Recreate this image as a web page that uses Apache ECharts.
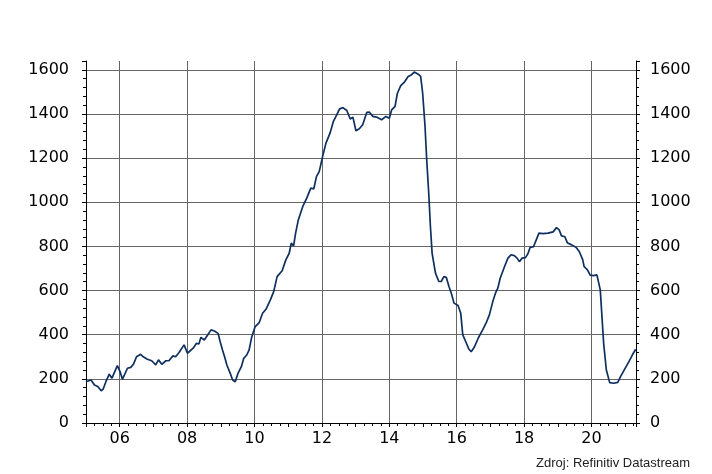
<!DOCTYPE html>
<html>
<head>
<meta charset="utf-8">
<script src="https://cdn.jsdelivr.net/npm/echarts@6/dist/echarts.min.js"></script>
<style>
html,body{margin:0;padding:0;background:#fff;}
#chart{width:712px;height:474px;}
</style>
</head>
<body>
<div id="chart"></div>
<script>
// Decimal years (x) and values (y)
const dates = [
2005.00,2005.15,2005.25,2005.35,2005.45,2005.51,2005.59,2005.69,2005.77,2005.93,
2006.01,2006.08,2006.23,2006.33,2006.41,2006.50,2006.62,2006.70,2006.82,2006.95,
2007.07,2007.15,2007.25,2007.37,2007.46,2007.58,2007.66,2007.76,2007.91,2008.01,
2008.18,2008.28,2008.35,2008.41,2008.51,2008.61,2008.71,2008.81,2008.86,2008.92,
2008.98,2009.05,2009.11,2009.18,2009.28,2009.35,2009.43,2009.51,2009.61,2009.68,
2009.77,2009.84,2009.92,2010.02,2010.14,2010.24,2010.34,2010.47,2010.57,2010.67,
2010.82,2010.93,2011.03,2011.09,2011.16,2011.22,2011.30,2011.43,2011.55,2011.67,
2011.76,2011.84,2011.92,2012.02,2012.12,2012.24,2012.34,2012.44,2012.52,2012.62,
2012.74,2012.84,2012.92,2013.01,2013.11,2013.21,2013.33,2013.41,2013.51,2013.62,
2013.77,2013.90,2014.00,2014.07,2014.17,2014.24,2014.34,2014.44,2014.56,2014.66,
2014.74,2014.86,2014.93,2014.99,2015.06,2015.11,2015.17,2015.22,2015.27,2015.37,
2015.47,2015.54,2015.62,2015.69,2015.77,2015.84,2015.92,2016.04,2016.12,2016.18,
2016.27,2016.36,2016.43,2016.52,2016.64,2016.77,2016.87,2016.97,2017.07,2017.15,
2017.22,2017.29,2017.42,2017.52,2017.61,2017.71,2017.79,2017.86,2017.94,2018.04,
2018.11,2018.18,2018.28,2018.34,2018.44,2018.56,2018.71,2018.86,2018.96,2019.04,
2019.11,2019.21,2019.28,2019.41,2019.54,2019.64,2019.74,2019.78,2019.88,2019.96,
2020.06,2020.16,2020.21,2020.26,2020.31,2020.36,2020.44,2020.54,2020.66,2020.78,
2020.86,2020.98,2021.11,2021.21,2021.31
];
const values = [
187,195,172,165,146,154,187,221,203,260,
233,198,248,252,267,300,311,300,289,282,
263,286,266,282,282,304,300,319,354,316,
339,361,358,388,376,399,422,417,409,406,
369,331,301,263,225,195,187,225,255,293,
308,331,391,437,455,497,515,558,595,663,
690,739,769,815,802,860,920,980,1019,1064,
1061,1117,1139,1207,1268,1313,1366,1396,1422,1429,
1416,1377,1386,1324,1333,1351,1407,1408,1389,1386,
1374,1389,1381,1419,1434,1494,1528,1543,1570,1578,
1590,1580,1570,1494,1343,1192,1041,890,769,679,
641,641,663,660,618,588,543,532,497,399,
368,335,323,343,385,422,452,490,550,588,
611,656,709,747,762,758,747,731,747,749,
766,796,799,822,860,858,860,866,885,875,
848,844,817,807,796,776,739,709,694,670,
668,671,675,603,482,361,240,183,180,184,
210,243,278,308,334
];
const yTicks = [0,200,400,600,800,1000,1200,1400,1600];
const sourceText = 'Zdroj: Refinitiv Datastream';

const seriesData = dates.map((d,i)=>[d, values[i]]);

const chart = echarts.init(document.getElementById('chart'), null, {renderer:'canvas'});
const labelFont = {fontFamily:'DejaVu Sans', fontSize:16, color:'#000'};
const yFormatter = function(v){ return yTicks.indexOf(v) >= 0 ? String(v) : ''; };
const yAxisBase = {
  type:'value', min:0, max:1640, interval:200,
  axisLine:{show:true, lineStyle:{color:'#000', width:1}},
  axisTick:{show:true, inside:false, length:4, lineStyle:{color:'#000'}},
  minorTick:{show:true, splitNumber:5, length:3, lineStyle:{color:'#000'}},
  axisLabel:Object.assign({showMaxLabel:false, showMinLabel:true, formatter:yFormatter}, labelFont)
};
chart.setOption({
  backgroundColor:'#fff',
  animation:false,
  grid:{left:86, right:76, top:61, bottom:51, containLabel:false},
  xAxis:{
    type:'value', min:2005, max:2021.32, interval:1,
    axisLine:{show:true, onZero:false, lineStyle:{color:'#000', width:1}},
    axisTick:{show:true, length:4, lineStyle:{color:'#000'}},
    minorTick:{show:true, splitNumber:4, length:3, lineStyle:{color:'#000'}},
    axisLabel:Object.assign({margin:8, formatter:function(v){
      if (Math.abs(v - Math.round(v))<1e-6 && Math.round(v)%2===0) return String(Math.round(v)).slice(2);
      return '';
    }}, labelFont),
    splitLine:{show:true, showMinLine:false, showMaxLine:false, lineStyle:{color:['#666666','transparent'], width:1}}
  },
  yAxis:[
    Object.assign({}, yAxisBase, {position:'left',
      axisLabel:Object.assign({}, yAxisBase.axisLabel, {margin:17}),
      splitLine:{show:true, showMinLine:false, showMaxLine:false, lineStyle:{color:'#666666', width:1}}}),
    Object.assign({}, yAxisBase, {position:'right',
      axisLabel:Object.assign({}, yAxisBase.axisLabel, {margin:14}),
      splitLine:{show:false}})
  ],
  graphic:[{
    type:'text', right:22, top:457,
    style:{text:sourceText, fontFamily:'Liberation Sans', fontSize:13, fill:'#222'}
  }],
  series:[{
    type:'line', xAxisIndex:0, yAxisIndex:0,
    data:seriesData, showSymbol:false, symbol:'none',
    lineStyle:{color:'#0f2f5f', width:1.7},
    z:5
  }]
});
</script>
</body>
</html>
